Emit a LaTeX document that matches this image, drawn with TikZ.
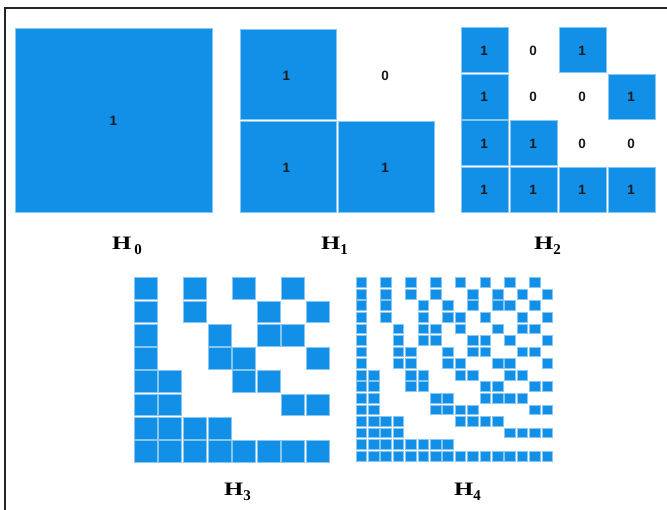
\documentclass[tikz,border=0pt]{standalone}
\usepackage{fontspec}
\setmainfont{Liberation Serif}
\newfontfamily\digfont{Liberation Sans}
\definecolor{cellblue}{RGB}{18,143,230}
\tikzset{
  cell/.style={fill=cellblue, draw=cellblue!50, line width=0.5pt},
  digit/.style={font=\digfont\bfseries\fontsize{13.5}{13.5}\selectfont, text=black!90, inner sep=0pt},
  hlabel/.style={font=\bfseries\fontsize{19}{19}\selectfont, inner sep=0pt, anchor=base west},
  frameline/.style={draw=black!85, line width=1.3pt}
}
\newcommand\hsub[1]{\raisebox{-5pt}{\fontsize{15}{15}\selectfont #1}}
\begin{document}
\begin{tikzpicture}[x=1pt,y=-1pt]
\useasboundingbox (0,0) rectangle (667,510);
\fill[white] (0,0) rectangle (667,510);
\draw[frameline] (5,510) -- (5,8) -- (667,8);

% ---------- H0 ----------
\path[cell] (15.5,28.5) rectangle (212,212);
\node[digit] (h0d) at (113.5,121) {1};
\node[hlabel] (lab0) at (112,250) {\scalebox{1.3}[1]{H}\hspace{3pt}\hsub{0}};

% ---------- H1 ----------
\foreach \r/\cl in {0/{0},1/{0,1}}{
  \foreach \c in \cl {
    \path[cell] ({239.3+\c*97.9+0.8},{28.3+\r*92.2+0.8}) rectangle ++(96.3,90.6);
  }
}
\node[digit] (h1a) at (286.5,76) {1};
\node[digit] (h1b) at (385,76) {0};
\node[digit] (h1c) at (286.5,167.5) {1};
\node[digit] (h1d) at (385,167.5) {1};
\node[hlabel] (lab1) at (321,250) {\scalebox{1.3}[1]{H}\hsub{1}};

% ---------- H2 ----------
\foreach \r/\cl in {0/{0,2},1/{0,3},2/{0,1},3/{0,1,2,3}}{
  \foreach \c in \cl {
    \path[cell] ({460+\c*49+0.8},{26.7+\r*46.5+0.8}) rectangle ++(47.4,44.9);
  }
}
\foreach \r/\c/\v/\n in {0/0/1/a,0/1/0/b,0/2/1/c,
                          1/0/1/d,1/1/0/e,1/2/0/f,1/3/1/g,
                          2/0/1/h,2/1/1/i,2/2/0/j,2/3/0/k,
                          3/0/1/l,3/1/1/m,3/2/1/n,3/3/1/o}{
  \node[digit] (h2\n) at ({460+\c*49+24},{26.7+\r*46.5+24}) {\v};
}
\node[hlabel] (lab2) at (534,250) {\scalebox{1.3}[1]{H}\hsub{2}};

% ---------- H3 ----------
\foreach \r/\cl in {0/{0,2,4,6},1/{0,2,5,7},2/{0,3,5,6},3/{0,3,4,7},
                    4/{0,1,4,5},5/{0,1,6,7},6/{0,1,2,3},7/{0,1,2,3,4,5,6,7}}{
  \foreach \c in \cl {
    \path[cell] ({133.3+\c*24.6+0.8},{276.7+\r*23.3+0.8}) rectangle ++(23,21.7);
  }
}
\node[hlabel] (lab3) at (224,496) {\scalebox{1.3}[1]{H}\hsub{3}};

% ---------- H4 ----------
\foreach \r/\cl in {0/{0,2,4,6,8,10,12,14},
                    1/{0,2,4,6,9,11,13,15},
                    2/{0,2,5,7,9,11,12,14},
                    3/{0,2,5,7,8,10,13,15},
                    4/{0,3,5,6,8,11,13,14},
                    5/{0,3,5,6,9,10,12,15},
                    6/{0,3,4,7,9,10,13,14},
                    7/{0,3,4,7,8,11,12,15},
                    8/{0,1,4,5,8,9,12,13},
                    9/{0,1,4,5,10,11,14,15},
                    10/{0,1,6,7,10,11,12,13},
                    11/{0,1,6,7,8,9,14,15},
                    12/{0,1,2,3,8,9,10,11},
                    13/{0,1,2,3,12,13,14,15},
                    14/{0,1,2,3,4,5,6,7},
                    15/{0,1,2,3,4,5,6,7,8,9,10,11,12,13,14,15}}{
  \foreach \c in \cl {
    \path[cell] ({355+\c*12.4+0.9},{276.7+\r*11.56+0.9}) rectangle ++(10.6,9.76);
  }
}
\node[hlabel] (lab4) at (454,496) {\scalebox{1.3}[1]{H}\hsub{4}};
\end{tikzpicture}
\end{document}
